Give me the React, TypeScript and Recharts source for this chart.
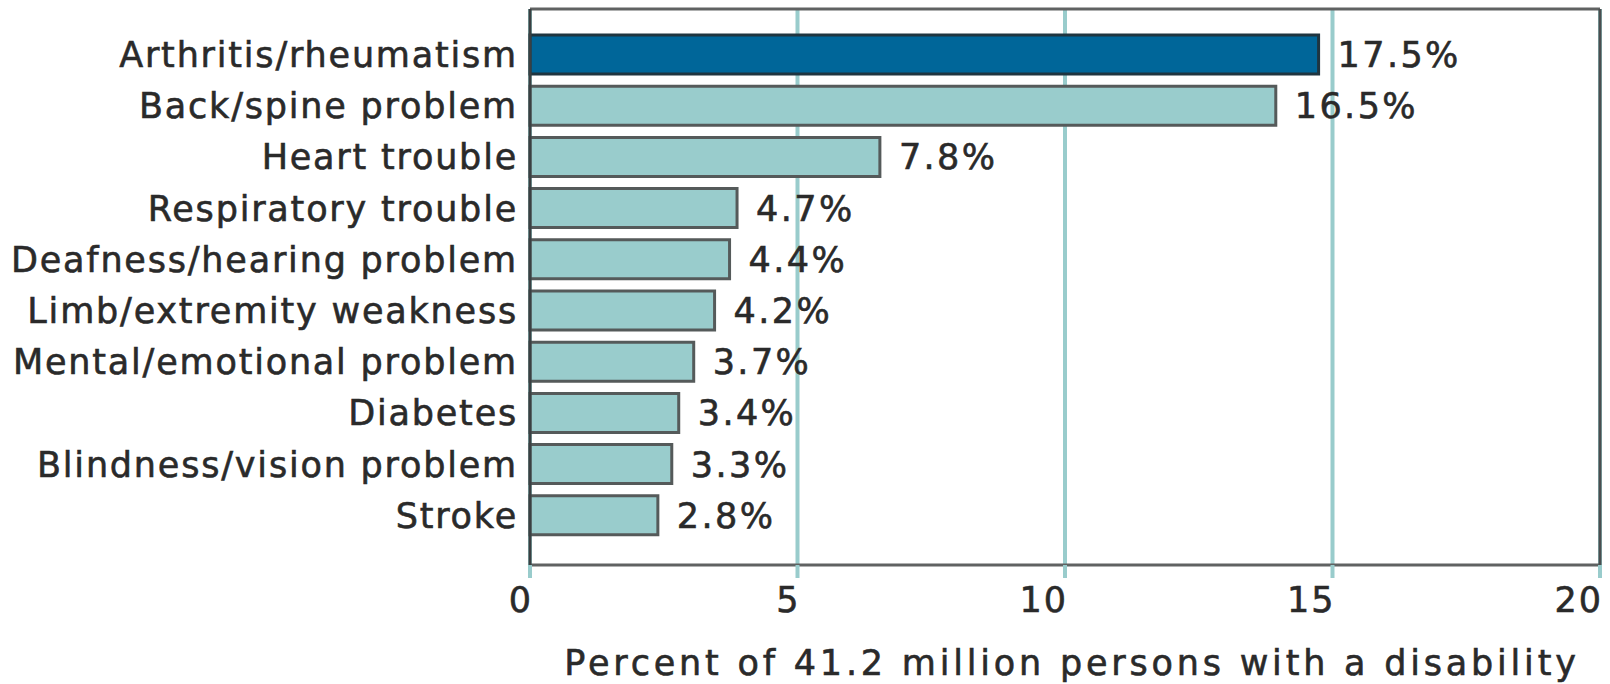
import React from 'react';
import { BarChart, Bar, XAxis, YAxis, CartesianGrid, Cell, LabelList, Label } from 'recharts';

const categories = [
  'Arthritis/rheumatism',
  'Back/spine problem',
  'Heart trouble',
  'Respiratory trouble',
  'Deafness/hearing problem',
  'Limb/extremity weakness',
  'Mental/emotional problem',
  'Diabetes',
  'Blindness/vision problem',
  'Stroke',
];

// bar lengths as drawn in the picture
const values = [14.74, 13.94, 6.54, 3.87, 3.73, 3.45, 3.06, 2.78, 2.65, 2.39];

// the printed labels
const valueLabels = ['17.5%', '16.5%', '7.8%', '4.7%', '4.4%', '4.2%', '3.7%', '3.4%', '3.3%', '2.8%'];

const xTicks = [0, 5, 10, 15, 20];

const data = categories.map((name, i) => ({ name, value: values[i], label: valueLabels[i] }));

const FONT = 'DejaVu Sans';
const TEXT = '#2a2a2a';
const TEAL = '#99cccc';
const BORDER = '#606262';

const textStyle = {
  fontFamily: FONT,
  fill: TEXT,
  stroke: TEXT,
  strokeWidth: 0.6,
};

const XTick = (props: any) => {
  const { x, y, payload } = props;
  return (
    <text x={x + 3} y={y} dy="0.71em" textAnchor="end" fontSize={35} letterSpacing={2} {...textStyle}>
      {payload.value}
    </text>
  );
};

const YTick = (props: any) => {
  const { x, y, payload } = props;
  return (
    <text x={x} y={y} dy="0.355em" textAnchor="end" fontSize={35} letterSpacing={1.8} {...textStyle}>
      {payload.value}
    </text>
  );
};

const ValueLabel = (props: any) => {
  const { x, y, width, height, value } = props;
  return (
    <text x={x + width + 19} y={y + height / 2} dy="0.355em" fontSize={35} letterSpacing={2.4} {...textStyle}>
      {value}
    </text>
  );
};

const AxisTitle = (props: any) => {
  const { viewBox } = props;
  const { x, y, width } = viewBox;
  return (
    <text x={x + width / 2 + 7} y={y + 98} dy="0.355em" textAnchor="middle" fontSize={35} letterSpacing={3.8} {...textStyle}>
      Percent of 41.2 million persons with a disability
    </text>
  );
};

export default function App() {
  return (
    <div style={{ position: 'absolute', left: 0, top: 0, width: 1610, height: 684, background: '#fff' }}>
      <BarChart
        width={1610}
        height={684}
        data={data}
        layout="vertical"
        margin={{ top: 0, right: 0, bottom: 0, left: 0 }}
      >
        <CartesianGrid horizontal={false} stroke={TEAL} strokeWidth={4} />
        <XAxis
          type="number"
          dataKey="value"
          domain={[0, 20]}
          ticks={xTicks}
          height={119}
          axisLine={{ stroke: BORDER, strokeWidth: 3 }}
          tickLine={{ stroke: TEAL, strokeWidth: 4 }}
          tickSize={13}
          tickMargin={9}
          tick={<XTick />}
          interval={0}
        >
          <Label content={<AxisTitle />} />
        </XAxis>
        <XAxis
          xAxisId="top"
          orientation="top"
          type="number"
          domain={[0, 20]}
          height={9}
          tick={false}
          tickLine={false}
          axisLine={{ stroke: BORDER, strokeWidth: 3 }}
        />
        <YAxis
          type="category"
          dataKey="name"
          width={530}
          padding={{ top: 20, bottom: 24 }}
          axisLine={{ stroke: '#3a4042', strokeWidth: 3 }}
          tickLine={false}
          tickSize={0}
          tickMargin={12}
          tick={<YTick />}
          interval={0}
        />
        <YAxis
          yAxisId="right"
          orientation="right"
          type="category"
          dataKey="name"
          width={10}
          tick={false}
          tickLine={false}
          axisLine={{ stroke: '#4a4f50', strokeWidth: 3 }}
        />
        <Bar dataKey="value" barSize={39} strokeWidth={3} isAnimationActive={false}>
          {data.map((d, i) => (
            <Cell key={d.name} fill={i === 0 ? '#006699' : TEAL} stroke={i === 0 ? '#1f3540' : '#555a5a'} />
          ))}
          <LabelList dataKey="label" content={<ValueLabel />} />
        </Bar>
      </BarChart>
    </div>
  );
}
